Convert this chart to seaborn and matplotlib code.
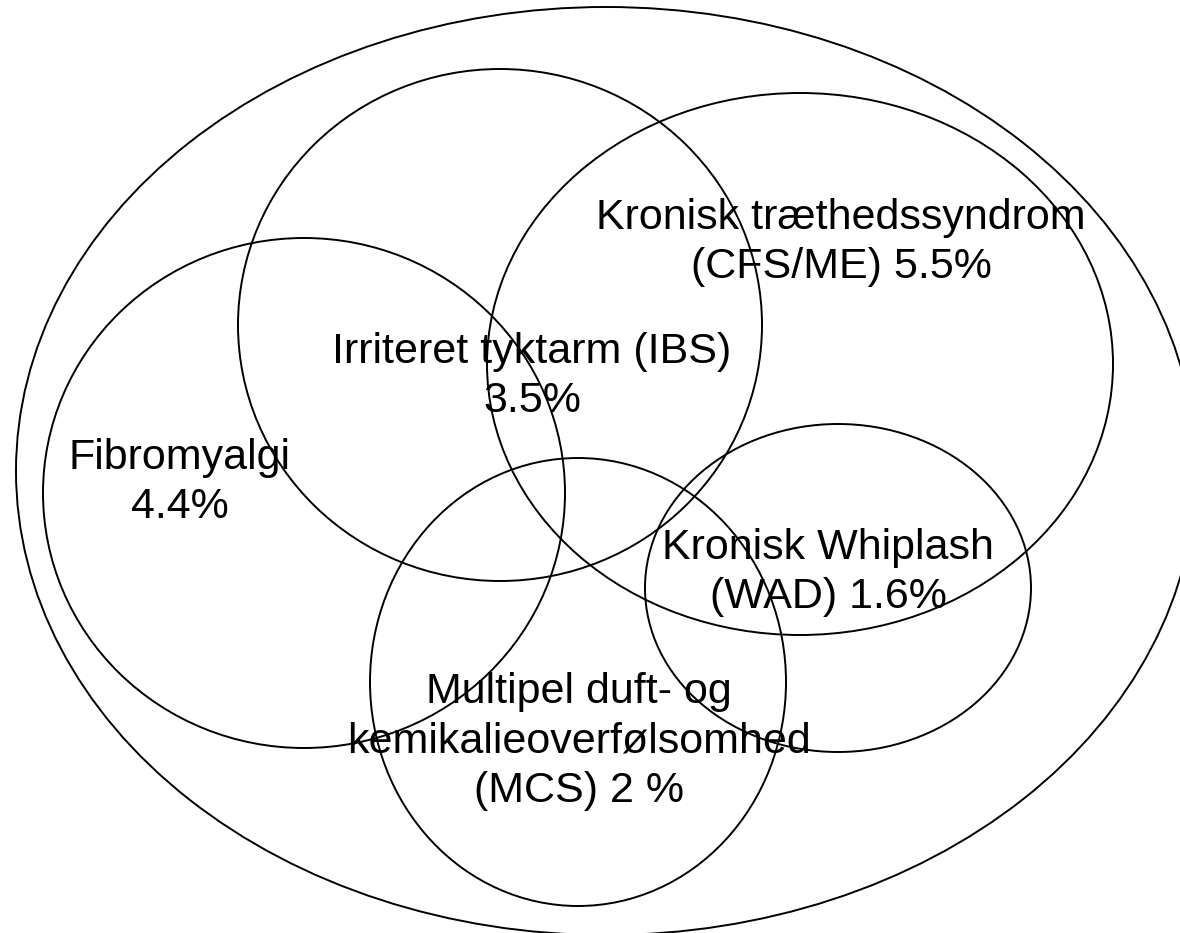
import matplotlib
matplotlib.use("Agg")
import matplotlib.pyplot as plt
from matplotlib.patches import Ellipse
import seaborn as sns

# Ellipser (centrum og akser i pixel-koordinater, y nedad)
sets = ["Alle", "Fibromyalgi", "IBS", "CFS/ME", "WAD", "MCS"]
center_x = [606, 304, 500, 800, 838, 578]
center_y = [471, 493, 325, 364, 588, 682]
width = [1180, 522, 524, 626, 386, 416]
height = [928, 510, 512, 542, 328, 448]

# Tekster (y = grundlinje for sidste linje)
labels = [
    "Kronisk træthedssyndrom\n(CFS/ME) 5.5%",
    "Irriteret tyktarm (IBS)\n3.5%",
    "Fibromyalgi\n4.4%",
    "Kronisk Whiplash\n(WAD) 1.6%",
    "Multipel duft- og\nkemikalieoverfølsomhed\n(MCS) 2 %",
]
label_x = [841, 532, 180, 828, 579]
label_y = [278, 412, 518, 608, 802]

sns.set_theme(style="white")
plt.rcParams["font.family"] = ["Liberation Sans", "DejaVu Sans"]

fig = plt.figure(figsize=(11.8, 9.33), dpi=100)
ax = fig.add_axes([0, 0, 1, 1])
ax.set_xlim(0, 1180)
ax.set_ylim(933, 0)
ax.set_axis_off()

for i in range(len(sets)):
    e = Ellipse((center_x[i], center_y[i]), width[i], height[i],
                fill=False, edgecolor="black", linewidth=1.4)
    ax.add_patch(e)

for txt, x, y in zip(labels, label_x, label_y):
    ax.text(x, y, txt, ha="center", va="baseline", fontsize=31,
            color="black", linespacing=1.3, multialignment="center")

fig.savefig("out.png", dpi=100, facecolor="white")
